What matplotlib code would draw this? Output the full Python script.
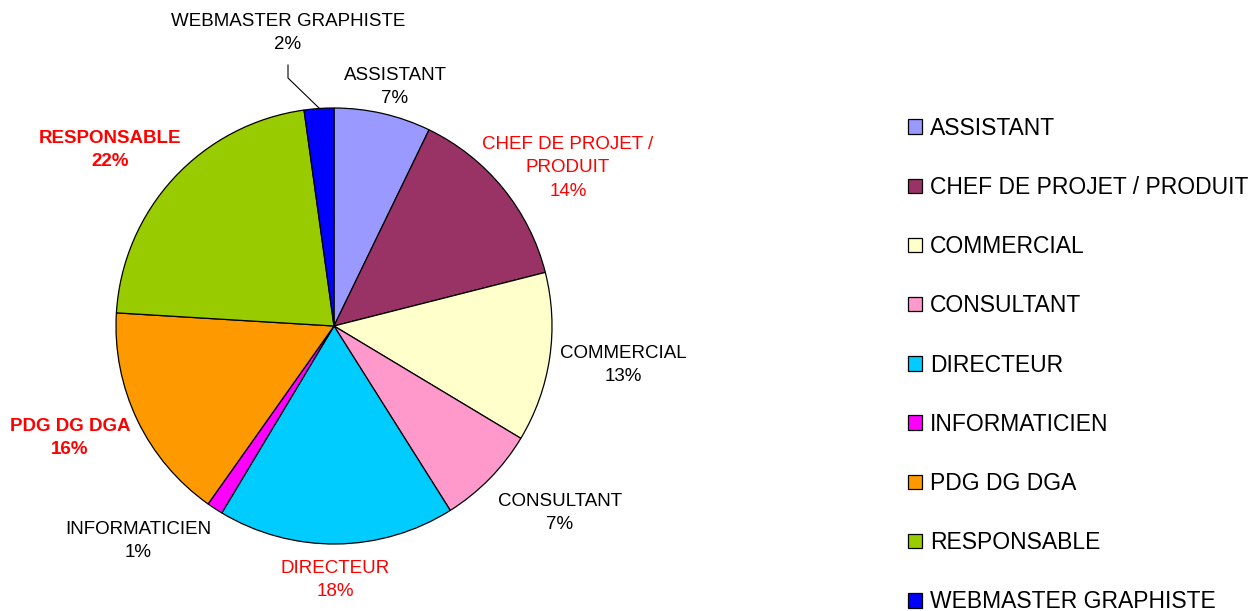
import matplotlib.pyplot as plt
from matplotlib.patches import Patch

plt.rcParams['font.family'] = ['Liberation Sans', 'DejaVu Sans']

# data
categories = ['ASSISTANT', 'CHEF DE PROJET / PRODUIT', 'COMMERCIAL', 'CONSULTANT',
              'DIRECTEUR', 'INFORMATICIEN', 'PDG DG DGA', 'RESPONSABLE',
              'WEBMASTER GRAPHISTE']
values = [7.2, 13.9, 12.6, 7.45, 17.6, 1.2, 16.2, 21.9, 2.2]
colors = ['#9999FF', '#993366', '#FFFFCC', '#FF99CC', '#00CCFF',
          '#FF00FF', '#FF9900', '#99CC00', '#0000FF']

# label layout: text shown, colour, weight, position (pixels in the picture)
label_names = ['ASSISTANT', 'CHEF DE PROJET /\nPRODUIT', 'COMMERCIAL', 'CONSULTANT',
               'DIRECTEUR', 'INFORMATICIEN', 'PDG DG DGA', 'RESPONSABLE',
               'WEBMASTER GRAPHISTE']
label_colors = ['black', 'red', 'black', 'black', 'red', 'black', 'red', 'red', 'black']
label_weights = ['normal'] * 6 + ['bold', 'bold', 'normal']
label_px = [(395, 87), (568, 168), (623, 365), (560, 513), (335, 580),
            (138, 541), (70, 438), (110, 150), (288, 33)]

W, H = 1255, 611
cx, cy, R = 334, 326, 218

fig = plt.figure(figsize=(W / 100, H / 100), dpi=100)
# axes so that 1 data unit = R pixels, pie centred at (cx, cy)
ax_w, ax_h = 2 * cx, 2 * (H - cy)
ax = fig.add_axes([0, 0, ax_w / W, ax_h / H])
ax.axis('off')

wedges, _ = ax.pie(values, colors=colors, startangle=90, counterclock=False,
                   radius=1, wedgeprops=dict(edgecolor='black', linewidth=0.9))
ax.set_xlim(-cx / R, cx / R)
ax.set_ylim(-(H - cy) / R, (H - cy) / R)
ax.set_aspect('auto')

total = sum(values)
for name, v, c, wt, (px, py) in zip(label_names, values, label_colors, label_weights, label_px):
    ax.text((px - cx) / R, (cy - py) / R, f'{name}\n{round(100 * v / total)}%',
            ha='center', va='center', fontsize=13.5, color=c, fontweight=wt,
            linespacing=1.5)

# leader line for the small webmaster slice
lx = [(288 - cx) / R, (288 - cx) / R, (319 - cx) / R]
ly = [(cy - 65) / R, (cy - 78) / R, (cy - 108) / R]
ax.plot(lx, ly, color='black', lw=0.8)

handles = [Patch(facecolor=c, edgecolor='black', linewidth=0.9) for c in colors]
fig.legend(handles, categories, loc='center left',
           bbox_to_anchor=(908 / W, 1 - 365 / H), frameon=False, fontsize=16.5,
           handlelength=0.6, handleheight=0.6, handletextpad=0.35,
           labelspacing=1.58, borderpad=0, borderaxespad=0)

fig.savefig('out.png', dpi=100)
